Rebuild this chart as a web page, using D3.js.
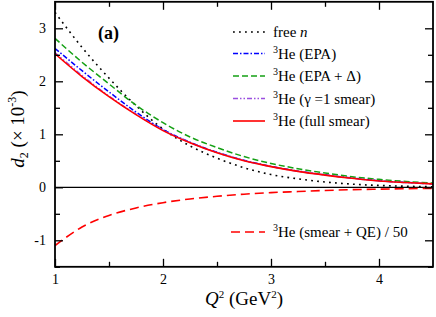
<!DOCTYPE html>
<html><head><meta charset="utf-8">
<script src="https://cdn.jsdelivr.net/npm/d3@7"></script>
<style>
body{margin:0;background:#fff;}
svg text{font-family:"Liberation Serif","Times New Roman","DejaVu Serif",serif;}
</style></head>
<body><svg id="c" width="436" height="317" font-family="Liberation Serif, DejaVu Serif, serif"></svg>
<script>
const q2 = [1.0,1.25,1.5,1.75,2.0,2.25,2.5,2.75,3.0,3.25,3.5,3.75,4.0,4.25,4.5];
const freeN   = [3.30,2.64,2.06,1.54,1.10,0.78,0.55,0.37,0.24,0.16,0.10,0.06,0.035,0.02,0.01];
const epa     = [2.62,2.20,1.80,1.42,1.09,0.85,0.66,0.51,0.395,0.305,0.235,0.175,0.125,0.092,0.066];
const epaDelta= [2.81,2.36,1.95,1.55,1.22,0.95,0.75,0.58,0.45,0.35,0.27,0.20,0.15,0.11,0.08];
const gamma1  = [2.54,2.11,1.72,1.38,1.08,0.845,0.655,0.505,0.392,0.302,0.232,0.172,0.122,0.09,0.065];
const fullSm  = [2.52,2.09,1.71,1.37,1.07,0.84,0.65,0.50,0.39,0.30,0.23,0.17,0.12,0.09,0.065];
const smearQE = [-1.10,-0.75,-0.53,-0.39,-0.29,-0.22,-0.17,-0.13,-0.10,-0.08,-0.06,-0.045,-0.035,-0.027,-0.02];
const xTicks = [1,2,3,4];
const yTicks = [-1,0,1,2,3];

const series = [
  {name:"free", vals:freeN, color:"#000", dash:"1.8,4.2", w:1.6},
  {name:"epa", vals:epa, color:"#0000ff", dash:"5,2,1.5,2", w:1.5},
  {name:"epad", vals:epaDelta, color:"#14a014", dash:"6,3", w:1.5},
  {name:"g1", vals:gamma1, color:"#9a4fe0", dash:"5,2,1.5,2,1.5,2", w:1.5},
  {name:"full", vals:fullSm, color:"#ff0000", dash:null, w:1.6},
  {name:"qe", vals:smearQE, color:"#ff0000", dash:"9,5", w:1.6}
];

const FONT = "Liberation Serif, DejaVu Serif, serif";
const svg = d3.select("#c");
const L=55, R=433, T=1.8, B=266.8;
const x = d3.scaleLinear().domain([1,4.5]).range([L,R]);
const y = d3.scaleLinear().domain([-1.5,3.5]).range([B,T]);

svg.append("clipPath").attr("id","clip").append("rect").attr("x",L).attr("y",T).attr("width",R-L).attr("height",B-T);

svg.append("line").attr("x1",L).attr("x2",R).attr("y1",y(0)).attr("y2",y(0)).attr("stroke","#000").attr("stroke-width",1.2);

const line = d3.line().x((d,i)=>x(q2[i])).y(d=>y(d)).curve(d3.curveMonotoneX);
const g = svg.append("g").attr("clip-path","url(#clip)");
series.forEach(s=>{
  g.append("path").attr("d",line(s.vals)).attr("fill","none").attr("stroke",s.color)
   .attr("stroke-width",s.w).attr("stroke-dasharray",s.dash);
});

const fmt = d => d<0 ? "-"+Math.abs(d) : String(d);
function styleAxis(sel){
  sel.attr("font-family",FONT);
  sel.select(".domain").remove();
  sel.selectAll(".tick line").attr("stroke","#000").attr("stroke-width",1.3);
  sel.selectAll(".tick text").attr("font-size",14).attr("fill","#000").attr("font-family",FONT);
}
const minorX=[1.5,2.5,3.5], minorY=[-1.5,-0.5,0.5,1.5,2.5];
svg.append("g").attr("transform",`translate(0,${B})`).call(d3.axisBottom(x).tickValues(xTicks).tickSize(-8).tickPadding(7).tickFormat(fmt)).call(styleAxis);
svg.append("g").attr("transform",`translate(0,${B})`).call(d3.axisBottom(x).tickValues(minorX).tickSize(-5).tickFormat("")).call(styleAxis);
svg.append("g").attr("transform",`translate(0,${T})`).call(d3.axisTop(x).tickValues(xTicks).tickSize(-8).tickFormat("")).call(styleAxis);
svg.append("g").attr("transform",`translate(0,${T})`).call(d3.axisTop(x).tickValues(minorX).tickSize(-5).tickFormat("")).call(styleAxis);
svg.append("g").attr("transform",`translate(${L},0)`).call(d3.axisLeft(y).tickValues(yTicks).tickSize(-8).tickPadding(9).tickFormat(fmt)).call(styleAxis);
svg.append("g").attr("transform",`translate(${L},0)`).call(d3.axisLeft(y).tickValues(minorY).tickSize(-5).tickFormat("")).call(styleAxis);
svg.append("g").attr("transform",`translate(${R},0)`).call(d3.axisRight(y).tickValues(yTicks).tickSize(-8).tickFormat("")).call(styleAxis);
svg.append("g").attr("transform",`translate(${R},0)`).call(d3.axisRight(y).tickValues(minorY).tickSize(-5).tickFormat("")).call(styleAxis);

svg.append("rect").attr("x",L).attr("y",T).attr("width",R-L).attr("height",B-T).attr("fill","none").attr("stroke","#000").attr("stroke-width",1.8);

svg.append("text").attr("x",98).attr("y",39).attr("font-size",18).attr("font-weight","bold").attr("font-family",FONT).text("(a)");

const legRows = [
  {s:0, y:32, parts:[["free ",""],["n","i"]]},
  {s:1, y:53.5, parts:[["3","sup"],["He (EPA)",""]]},
  {s:2, y:76, parts:[["3","sup"],["He (EPA + Δ)",""]]},
  {s:3, y:98.5, parts:[["3","sup"],["He (γ =1 smear)",""]]},
  {s:4, y:121, parts:[["3","sup"],["He (full smear)",""]]},
  {s:5, y:232, parts:[["3","sup"],["He (smear + QE) / 50",""]]}
];
legRows.forEach(r=>{
  const s = series[r.s];
  const x1 = r.s===5 ? 231 : 233;
  svg.append("line").attr("x1",x1).attr("x2",265).attr("y1",r.y).attr("y2",r.y)
    .attr("stroke",s.color).attr("stroke-width",s.w).attr("stroke-dasharray",s.dash);
  const t = svg.append("text").attr("x",273).attr("y",r.y+5).attr("font-size",15).attr("font-family",FONT);
  r.parts.forEach(p=>{
    const ts = t.append("tspan").text(p[0]);
    if(p[1]==="i") ts.attr("font-style","italic");
    if(p[1]==="sup") ts.attr("font-size",10).attr("dy",-6);
    else if(p[1]==="" && p[0].startsWith("He")) ts.attr("dy",6);
  });
});

const yl = svg.append("text").attr("transform","translate(24,129) rotate(-90)").attr("text-anchor","middle").attr("font-size",19).attr("font-family",FONT);
yl.append("tspan").attr("font-style","italic").text("d");
yl.append("tspan").attr("font-size",12).attr("dy",4).text("2");
yl.append("tspan").attr("dy",-4).text(" (× 10");
yl.append("tspan").attr("font-size",12).attr("dy",-8).text("-3");
yl.append("tspan").attr("dy",8).text(")");

const xl = svg.append("text").attr("x",244).attr("y",305).attr("text-anchor","middle").attr("font-size",19).attr("font-family",FONT);
xl.append("tspan").attr("font-style","italic").text("Q");
xl.append("tspan").attr("font-size",11).attr("dy",-7).text("2");
xl.append("tspan").attr("dy",7).text(" (GeV");
xl.append("tspan").attr("font-size",11).attr("dy",-7).text("2");
xl.append("tspan").attr("dy",7).text(")");
</script></body></html>
